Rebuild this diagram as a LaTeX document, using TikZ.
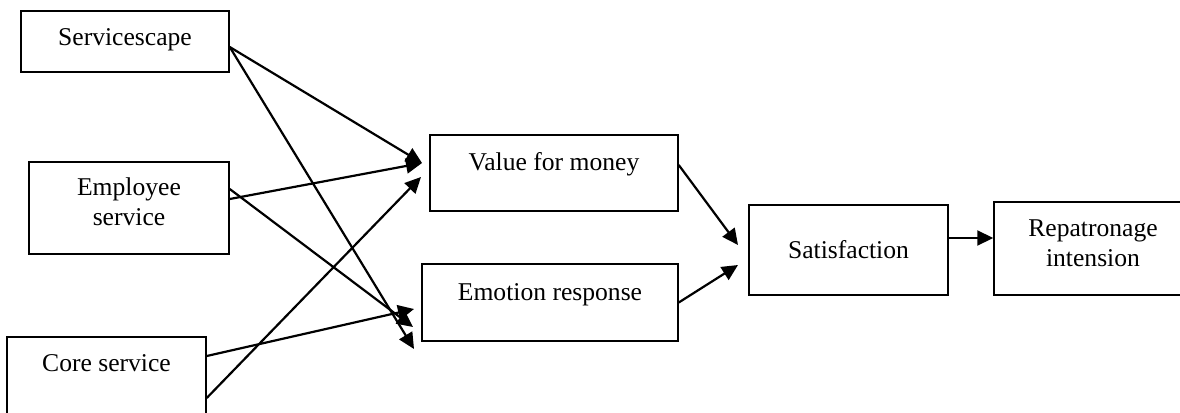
\documentclass[tikz,border=0pt]{standalone}
\usepackage{fontspec}
\setmainfont{Liberation Serif}
\usetikzlibrary{arrows.meta}

\begin{document}
\begin{tikzpicture}[x=0.5pt,y=-0.5pt,
    box/.style={draw, line width=0.75pt, inner sep=0pt, align=center, text height=9pt,
        font=\fontsize{12.8}{14.8}\selectfont},
    arr/.style={line width=1.1pt, -{Triangle[length=8pt,width=7.5pt]}}]
         \useasboundingbox (0,0) rectangle (1180,413);

         \node[box, minimum width=104pt, minimum height=30.5pt, text depth=4.8pt] (scape) at (125,41.5) {Servicescape};
         \node[box, minimum width=100pt, minimum height=46pt, text height=21pt, text depth=4pt] (empl) at (129,208) {Employee\\service};
         \node[box, minimum width=99.5pt, minimum height=46.5pt, text depth=20.8pt] (core) at (106.5,383.5) {Core service};
         \node[box, minimum width=124pt, minimum height=38pt, text depth=12pt] (value) at (554,173) {Value for money};
         \node[box, minimum width=128pt, minimum height=38.5pt, text depth=11.5pt] (emotion) at (550,302.5) {Emotion response};
         \node[box, minimum width=99.5pt, minimum height=45pt, text depth=1pt] (satisf) at (848.5,250) {Satisfaction};
         \node[box, minimum width=99pt, minimum height=46.5pt, text height=21.5pt, text depth=4pt] (repat) at (1093,248.5) {Repatronage\\intension};

         \coordinate (tipA) at (422,163);
         \coordinate (tipB) at (421,177);
         \coordinate (tipC) at (414,309);
         \coordinate (tipD) at (413,327);
         \coordinate (tipE) at (414,349);
         \coordinate (tipF) at (738,245);
         \coordinate (tipG) at (738,265);

         \draw[arr] ([yshift=-2.75pt]scape.east) -- (tipA);
         \draw[arr] ([yshift=-2.75pt]scape.east) -- (tipE);
         \draw[arr] ([yshift=4.5pt]empl.east) -- (tipA);
         \draw[arr] ([yshift=9.5pt]empl.east) -- (tipD);
         \draw[arr] ([yshift=13.75pt]core.east) -- (tipC);
         \draw[arr] ([yshift=-7.25pt]core.east) -- (tipB);
         \draw[arr] ([yshift=4pt]value.east) -- (tipF);
         \draw[arr] (emotion.east) -- (tipG);
         \draw[arr] ([yshift=6pt]satisf.east) -- ([yshift=5.25pt]repat.west);
      \end{tikzpicture}
\end{document}
